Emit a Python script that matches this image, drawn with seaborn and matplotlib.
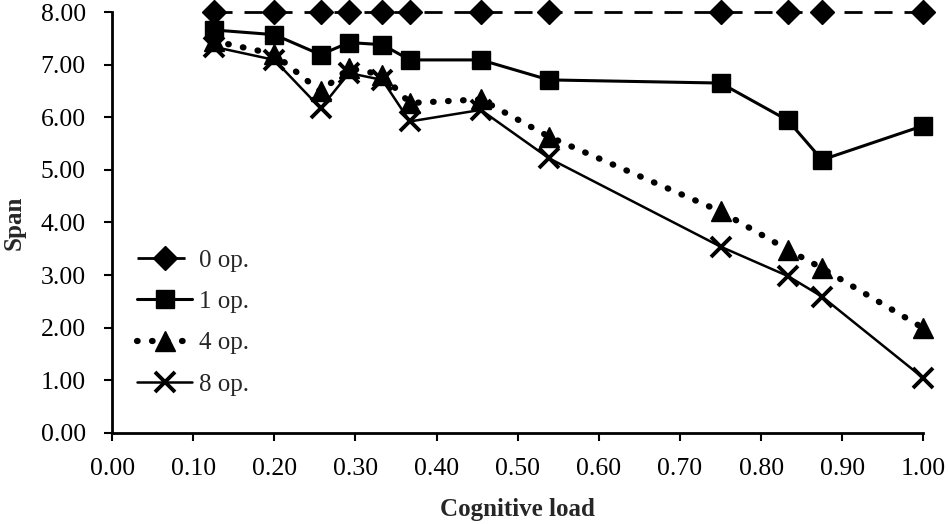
import seaborn as sns
import matplotlib.pyplot as plt
import pandas as pd

# cognitive load values (x) and span per number of operations
load = [0.125, 0.20, 0.257, 0.292, 0.333, 0.367, 0.4545, 0.5385, 0.75, 0.833, 0.875, 1.00]
span_0op = [8.00, 8.00, 8.00, 8.00, 8.00, 8.00, 8.00, 8.00, 8.00, 8.00, 8.00, 8.00]
span_1op = [7.66, 7.57, 7.19, 7.42, 7.38, 7.09, 7.09, 6.71, 6.65, 5.94, 5.19, 5.84]
span_4op = [7.45, 7.20, 6.49, 6.93, 6.81, 6.27, 6.34, 5.63, 4.21, 3.48, 3.13, 1.99]
span_8op = [7.34, 7.09, 6.17, 6.84, 6.71, 5.92, 6.14, 5.22, 3.54, 2.98, 2.59, 1.04]
labels = ['0 op.', '1 op.', '4 op.', '8 op.']

sns.set_style('ticks')
plt.rcParams['font.family'] = ['Liberation Serif', 'DejaVu Serif']

df = pd.DataFrame({'load': load, '0 op.': span_0op, '1 op.': span_1op,
                   '4 op.': span_4op, '8 op.': span_8op})

fig = plt.figure(figsize=(9.5, 5.24), dpi=100)
ax = fig.add_axes([0.118, 0.174, 0.854, 0.803])

# 0 op: dashed with diamonds
sns.lineplot(data=df, x='load', y='0 op.', ax=ax, color='black', marker='D', ms=12.5,
             mec='black', mew=1, lw=2, label=labels[0], clip_on=False)
ax.lines[-1].set_dashes((6.5, 4.3))
# 1 op: solid with squares
sns.lineplot(data=df, x='load', y='1 op.', ax=ax, color='black', marker='s', ms=13.5,
             mec='black', mew=1, lw=2.2, label=labels[1], clip_on=False)
# 4 op: round dots with triangles
sns.lineplot(data=df, x='load', y='4 op.', ax=ax, color='black', marker='^', ms=15,
             mec='black', mew=1, lw=4.5, label=labels[2], clip_on=False)
ax.lines[-1].set_dashes((0.1, 2.3))
ax.lines[-1].set_dash_capstyle('round')
# 8 op: solid thin with crosses
sns.lineplot(data=df, x='load', y='8 op.', ax=ax, color='black', marker='x', ms=14,
             mec='black', mew=2.8, lw=1.8, label=labels[3], clip_on=False)

ax.set_xlim(0, 1.0)
ax.set_ylim(0, 8.0)
ax.set_xticks([i / 10 for i in range(11)])
ax.set_yticks(range(9))
ax.set_xticklabels([f'{i / 10:.2f}' for i in range(11)])
ax.set_yticklabels([f'{i:.2f}' for i in range(9)])
ax.tick_params(axis='both', labelsize=18.5, length=6, width=1.5, direction='out',
               colors='black')
ax.tick_params(axis='x', pad=12)
ax.tick_params(axis='y', pad=13)
for s in ['left', 'bottom']:
    ax.spines[s].set_linewidth(2)
    ax.spines[s].set_color('black')
sns.despine(ax=ax)

ax.set_xlabel('Cognitive load', fontsize=18, fontweight='bold', labelpad=13)
ax.set_ylabel('Span', fontsize=18, fontweight='bold', labelpad=11)

leg = ax.legend(loc='center left', bbox_to_anchor=(0.031, 0.262), frameon=False,
                fontsize=18, numpoints=1, handlelength=2.2, handletextpad=0.25,
                labelspacing=0.75, borderpad=0, borderaxespad=0)

fig.savefig('out.png', dpi=100)
